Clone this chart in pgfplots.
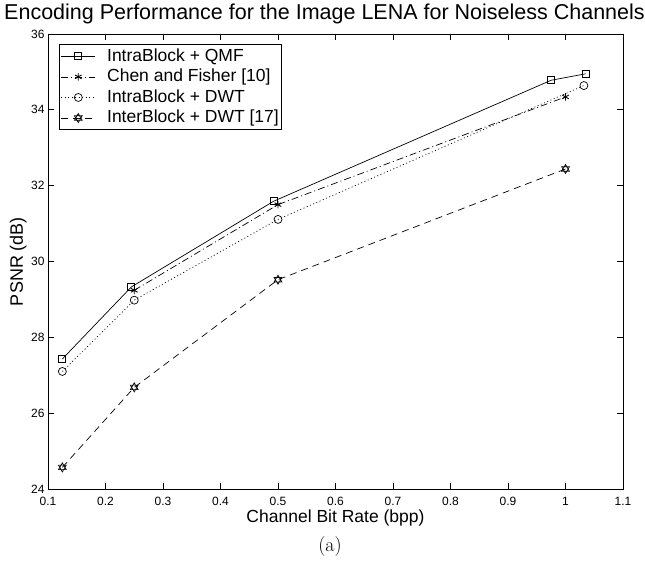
\documentclass[border=0pt]{standalone}
\usepackage{fontspec}
\setsansfont{Liberation Sans}
\usepackage{pgfplots}
\pgfplotsset{compat=1.18}

\pgfdeclareplotmark{hexagram}{%
  \pgfpathmoveto{\pgfqpointpolar{90}{\pgfplotmarksize}}%
  \pgfpathlineto{\pgfqpointpolar{210}{\pgfplotmarksize}}%
  \pgfpathlineto{\pgfqpointpolar{330}{\pgfplotmarksize}}%
  \pgfpathclose
  \pgfpathmoveto{\pgfqpointpolar{270}{\pgfplotmarksize}}%
  \pgfpathlineto{\pgfqpointpolar{30}{\pgfplotmarksize}}%
  \pgfpathlineto{\pgfqpointpolar{150}{\pgfplotmarksize}}%
  \pgfpathclose
  \pgfusepathqstroke}

\begin{document}
\begin{tikzpicture}
\begin{axis}[
  scale only axis, width=575pt, height=455pt,
  xmin=0.1, xmax=1.1, ymin=24, ymax=36,
  xtick={0.1,0.2,0.3,0.4,0.5,0.6,0.7,0.8,0.9,1,1.1},
  ytick={24,26,28,30,32,34,36},
  tick align=inside, xtick pos=both, ytick pos=both,
  major tick length=6pt,
  axis line style={line width=0.7pt},
  every tick/.style={black, line width=0.7pt},
  /pgf/number format/assume math mode=true,
  ticklabel style={font=\sffamily\fontsize{12}{13}\selectfont},
  xticklabel style={yshift=-5pt},
  title={Encoding Performance for the Image LENA for Noiseless Channels},
  title style={font=\sffamily\fontsize{21.5}{24}\selectfont, at={(axis description cs:0.5,1)}, anchor=base, yshift=8pt, xshift=-11pt},
  xlabel={Channel Bit Rate (bpp)},
  xlabel style={font=\sffamily\fontsize{17.5}{20}\selectfont, at={(axis description cs:0.5,0)}, anchor=base, yshift=-34pt},
  ylabel={PSNR (dB)},
  ylabel style={font=\sffamily\fontsize{18}{20}\selectfont, at={(axis description cs:-0.052,0.5)}, anchor=center},
  legend style={font=\sffamily\fontsize{17.5}{20}\selectfont, at={(axis description cs:0.0191,0.978)}, anchor=north west,
    draw=black, line width=0.9pt, inner sep=1.5pt, row sep=0pt, column sep=10pt,
    nodes={inner sep=1.5pt, text height=13.6pt, text depth=4pt}},
  legend cell align=left,
  legend image code/.code={\draw[mark repeat=2,mark phase=2,#1] plot coordinates {(0pt,0pt) (17pt,0pt) (34pt,0pt)};},
  every axis plot/.append style={black, line width=0.7pt},
]
\addplot[solid, mark=square, mark size=3.5pt, mark options={solid, line width=0.8pt}] coordinates {
  (0.125,27.43) (0.245,29.33) (0.4925,31.59) (0.975,34.78) (1.035,34.95)};
\addplot[dash pattern=on 7pt off 3pt on 1pt off 3pt, mark=asterisk, mark size=3.8pt, mark options={solid, line width=0.9pt}] coordinates {
  (0.25,29.24) (0.50,31.50) (1.00,34.34)};
\addplot[dash pattern=on 1pt off 2.5pt, mark=o, mark size=4pt, mark options={solid, line width=0.7pt}] coordinates {
  (0.125,27.10) (0.25,28.98) (0.50,31.11) (1.032,34.64)};
\addplot[dash pattern=on 7pt off 5pt, mark=hexagram, mark size=4.5pt, mark options={solid, line width=0.7pt}] coordinates {
  (0.125,24.57) (0.25,26.68) (0.50,29.52) (1.00,32.44)};
\legend{IntraBlock + QMF, Chen and Fisher [10], IntraBlock + DWT, InterBlock + DWT [17]}
\end{axis}
\node[font=\rmfamily\fontsize{20}{22}\selectfont] at (282pt,-58pt) {(a)};
\pgfresetboundingbox
\path (-48pt,-78pt) rectangle (597pt,489pt);
\end{tikzpicture}
\end{document}
